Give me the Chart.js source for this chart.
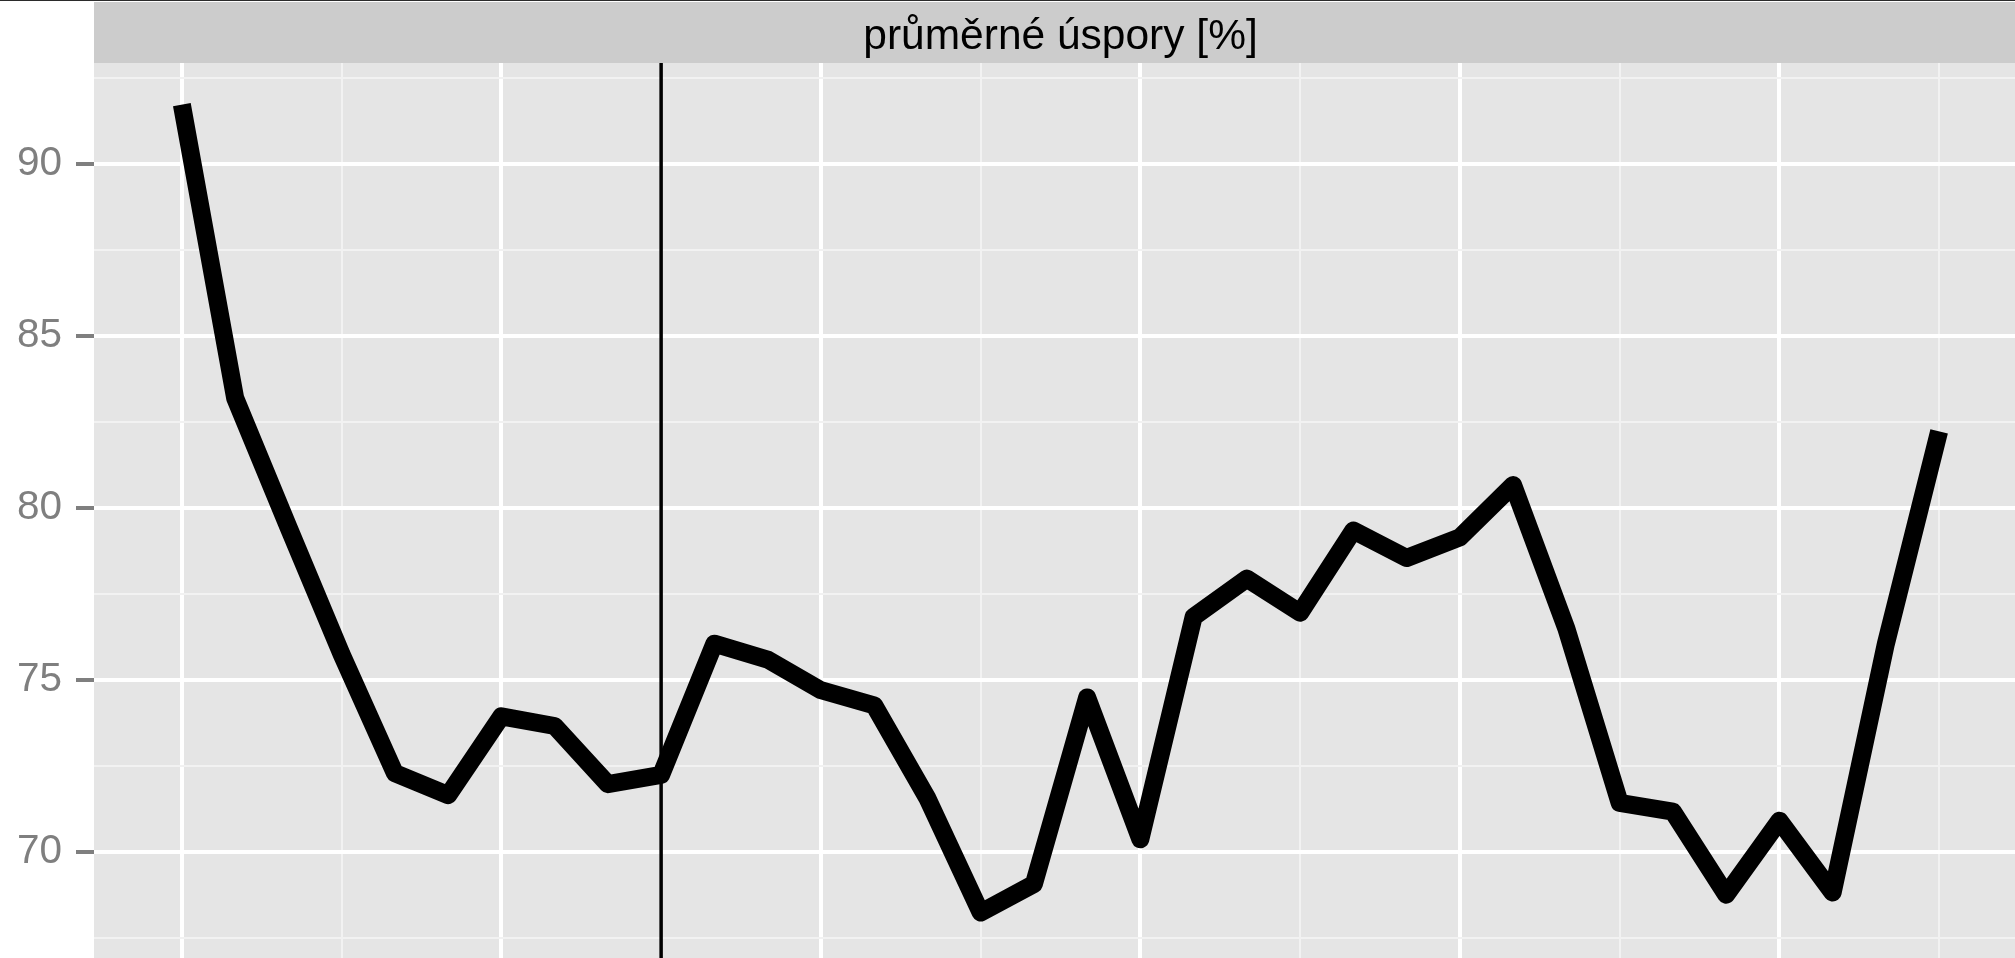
<!DOCTYPE html>
<html>
<head>
<meta charset="utf-8">
<script src="https://cdn.jsdelivr.net/npm/chart.js@4/dist/chart.umd.min.js"></script>
<style>
  html, body { margin: 0; padding: 0; overflow: hidden; background: #ffffff; width: 2015px; height: 958px; }
  #wrap { position: absolute; left: 0; top: 0; width: 2027px; height: 958px; }
</style>
</head>
<body>
<div id="wrap"><canvas id="c"></canvas></div>
<script>
// ---- data ----
const titleText = 'průměrné úspory [%]';
const xIndex = [0, 1, 2, 3, 4, 5, 6, 7, 8, 9, 10, 11, 12, 13, 14, 15, 16,
                17, 18, 19, 20, 21, 22, 23, 24, 25, 26, 27, 28, 29, 30, 31, 32, 33];
const savings = [91.72, 83.20, 79.45, 75.75, 72.30, 71.66, 73.95, 73.67, 71.98, 72.25,
                 76.06, 75.60, 74.71, 74.27, 71.57, 68.25, 69.08, 74.50, 70.38, 76.84,
                 77.95, 76.96, 79.35, 78.55, 79.15, 80.67, 76.50, 71.44, 71.18, 68.77,
                 70.92, 68.83, 76.06, 82.23];
const yMajorTicks = [70, 75, 80, 85, 90];
const yMinorGrid = [67.5, 72.5, 77.5, 82.5, 87.5, 92.5];
const xMajorGrid = [0, 6, 12, 18, 24, 30];
const xMinorGrid = [3, 9, 15, 21, 27, 33];
const vlineAt = [9];
const xRange = [-1.65, 34.65];
const yRange = [66.93, 92.93];

// ---- helpers ----
const isIn = (arr, v) => arr.some(a => Math.abs(a - v) < 1e-6);
const tickVal = c => (c && c.tick) ? c.tick.value : NaN;

const panelPlugin = {
  id: 'panel',
  beforeDraw(chart) {
    const { ctx, chartArea: a, width, height } = chart;
    ctx.save();
    ctx.fillStyle = '#ffffff';
    ctx.fillRect(0, 0, width, height);
    ctx.fillStyle = '#2b2b2b';
    ctx.fillRect(0, 0, width, 1);
    ctx.fillStyle = '#CCCCCC';
    ctx.fillRect(a.left, 2, a.right - a.left, a.top - 2);
    ctx.fillStyle = '#E5E5E5';
    ctx.fillRect(a.left, a.top, a.right - a.left, a.bottom - a.top);
    ctx.restore();
  },
  beforeDatasetsDraw(chart) {
    const { ctx, chartArea: a, scales: { x } } = chart;
    ctx.save();
    ctx.strokeStyle = '#000000';
    ctx.lineWidth = 3.5;
    vlineAt.forEach(v => {
      const px = x.getPixelForValue(v);
      ctx.beginPath();
      ctx.moveTo(px, a.top);
      ctx.lineTo(px, a.bottom);
      ctx.stroke();
    });
    ctx.restore();
  }
};

new Chart(document.getElementById('c'), {
  type: 'line',
  data: {
    datasets: [{
      data: xIndex.map((x, i) => ({ x: x, y: savings[i] })),
      borderColor: '#000000',
      borderWidth: 18,
      pointRadius: 0,
      pointHoverRadius: 0,
      tension: 0,
      fill: false,
      borderJoinStyle: 'round',
      borderCapStyle: 'butt'
    }]
  },
  options: {
    responsive: true,
    maintainAspectRatio: false,
    animation: false,
    devicePixelRatio: 1,
    layout: { padding: { top: 2.7, left: 0, right: 0, bottom: 0 } },
    plugins: {
      legend: { display: false },
      tooltip: { enabled: false },
      title: {
        display: true,
        text: titleText,
        fullSize: false,
        color: '#000000',
        font: { family: "'Liberation Sans', Arial, Helvetica, sans-serif", size: 42.5, weight: 'normal', lineHeight: 1.13 },
        padding: { top: 11, bottom: 1.3 }
      }
    },
    scales: {
      x: {
        type: 'linear',
        min: xRange[0],
        max: xRange[1],
        afterBuildTicks: s => { s.ticks = xMajorGrid.concat(xMinorGrid).sort((a, b) => a - b).map(v => ({ value: v })); },
        afterFit: s => { s.height = 0; s.paddingLeft = 0; s.paddingRight = 0; },
        ticks: { display: false },
        grid: {
          drawTicks: false,
          color: c => isIn(xMajorGrid, tickVal(c)) ? '#FFFFFF' : '#F2F2F2',
          lineWidth: c => isIn(xMajorGrid, tickVal(c)) ? 4 : 2
        },
        border: { display: false }
      },
      y: {
        type: 'linear',
        min: yRange[0],
        max: yRange[1],
        afterBuildTicks: s => { s.ticks = yMajorTicks.concat(yMinorGrid).sort((a, b) => a - b).map(v => ({ value: v })); },
        afterFit: s => { s.width = 94; s.paddingTop = 0; s.paddingBottom = 0; },
        ticks: {
          color: '#7F7F7F',
          padding: 14,
          font: { family: "'Liberation Sans', Arial, Helvetica, sans-serif", size: 40.5 },
          callback: v => isIn(yMajorTicks, v) ? String(v) : ''
        },
        grid: {
          drawTicks: true,
          tickLength: 18,
          tickWidth: 4,
          tickColor: c => isIn(yMajorTicks, tickVal(c)) ? '#7F7F7F' : 'rgba(0,0,0,0)',
          color: c => isIn(yMajorTicks, tickVal(c)) ? '#FFFFFF' : '#F2F2F2',
          lineWidth: c => isIn(yMajorTicks, tickVal(c)) ? 4 : 2
        },
        border: { display: false }
      }
    }
  },
  plugins: [panelPlugin]
});
</script>
</body>
</html>
